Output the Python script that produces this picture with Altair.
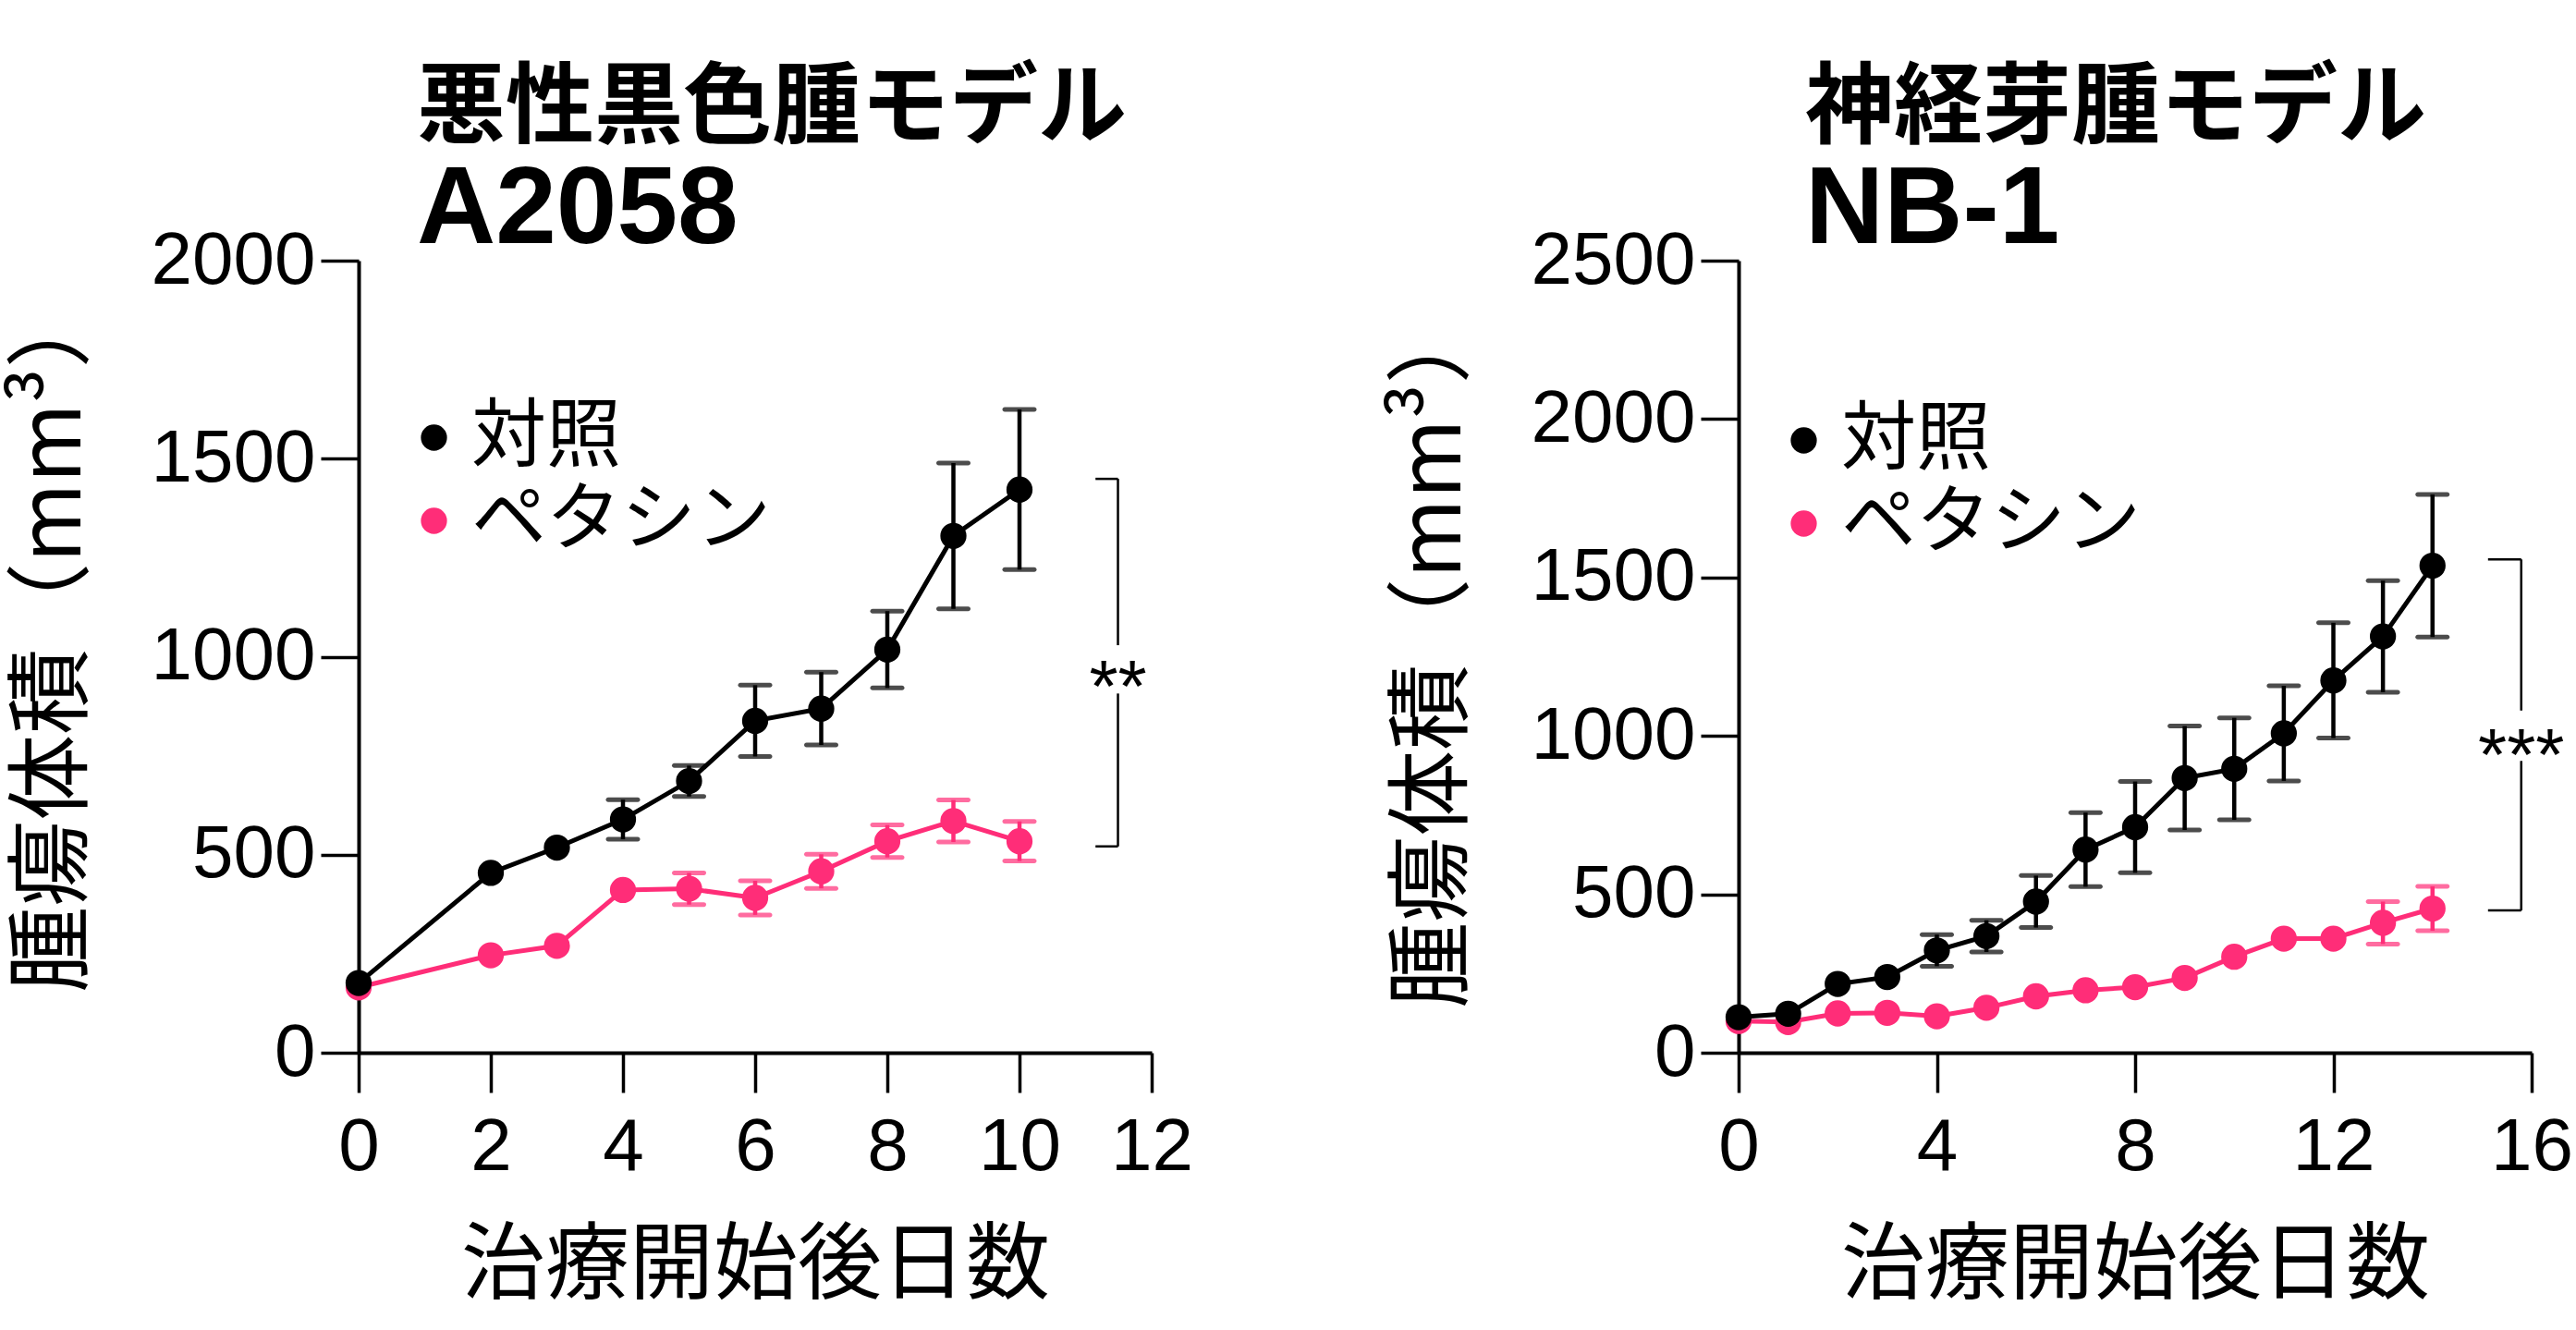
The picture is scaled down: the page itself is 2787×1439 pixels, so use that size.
import altair as alt
import pandas as pd

GROUPS = ["対照", "ペタシン"]
COLORS = ["#000000", "#FF2D78"]
CJK = "Noto Sans CJK JP"
LATIN = "Liberation Sans"

# Melanoma model A2058 (mean tumour volume, mm3, and error)
a2058_days = [0, 2, 3, 4, 5, 6, 7, 8, 9, 10]
a2058_ctrl = [176, 454, 518, 589, 686, 838, 869, 1018, 1305, 1422]
a2058_ctrl_err = [0, 0, 0, 50, 39, 90, 92, 97, 184, 202]
a2058_pet = [165, 246, 270, 411, 414, 391, 458, 534, 585, 534]
a2058_pet_err = [0, 0, 0, 0, 40, 43, 43, 41, 53, 50]

# Neuroblastoma model NB-1
nb1_days = [0, 1, 2, 3, 4, 5, 6, 7, 8, 9, 10, 11, 12, 13, 14]
nb1_ctrl = [112, 123, 217, 239, 323, 368, 477, 641, 712, 867, 896, 1008, 1175, 1314, 1537]
nb1_ctrl_err = [0, 0, 0, 0, 50, 50, 82, 117, 144, 164, 161, 150, 182, 176, 225]
nb1_pet = [100, 97, 124, 126, 115, 142, 178, 197, 207, 236, 303, 360, 360, 410, 455]
nb1_pet_err = [0, 0, 0, 0, 0, 0, 0, 0, 0, 0, 0, 0, 0, 67, 70]

# Significance brackets: x of the vertical line, x of the inner end of the caps,
# bottom / top of the bracket, gap around the stars, star label and its baseline
a2058_bracket = dict(x=11.49, x_in=11.15, lo=521, hi=1449, gap_lo=907, gap_hi=1029, label="**", label_y=860)
nb1_bracket = dict(x=15.79, x_in=15.12, lo=449, hi=1557, gap_lo=921, gap_hi=1080, label="***", label_y=862)


def series_frame(days, ctrl, ctrl_err, pet, pet_err):
    rows = []
    # treated series first so the control series is drawn on top
    for d, v, e in zip(days, pet, pet_err):
        rows.append({"day": d, "vol": v, "err": e, "group": GROUPS[1]})
    for d, v, e in zip(days, ctrl, ctrl_err):
        rows.append({"day": d, "vol": v, "err": e, "group": GROUPS[0]})
    df = pd.DataFrame(rows)
    df["lo"] = df["vol"] - df["err"]
    df["hi"] = df["vol"] + df["err"]
    return df


def panel(df, x_max, x_step, y_max, title, subtitle, title_dx, legend_xy, y_title_pos, br):
    x_axis = alt.Axis(values=list(range(0, x_max + 1, x_step)), title="治療開始後日数")
    y_axis = alt.Axis(
        values=list(range(0, y_max + 1, 500)),
        title="腫瘍体積（mm³）",
        format="d",
        titleY=y_title_pos,
    )
    xs = alt.Scale(domain=[0, x_max], nice=False, zero=True)
    ys = alt.Scale(domain=[0, y_max], nice=False, zero=True)

    def X(field):
        return alt.X(field, type="quantitative", scale=xs, axis=x_axis)

    def Y(field):
        return alt.Y(field, type="quantitative", scale=ys, axis=y_axis)

    layers = []
    # connecting lines and error bars, one colour per group (treated drawn first)
    for group, colour in list(zip(GROUPS, COLORS))[::-1]:
        g = alt.Chart(df).transform_filter(alt.datum.group == group)
        g_err = g.transform_filter("datum.err > 0")
        layers.append(g.mark_line(strokeWidth=5, color=colour).encode(x=X("day"), y=Y("vol")))
        layers.append(
            g_err.mark_rule(strokeWidth=4.5, color=colour).encode(x=X("day"), y=Y("lo"), y2="hi:Q")
        )
        for end in ("lo", "hi"):
            layers.append(
                g_err.mark_tick(
                    orient="horizontal", size=37, thickness=5, cornerRadius=2.5, color=colour
                ).encode(x=X("day"), y=Y(end))
            )

    legend = alt.Legend(
        orient="none",
        legendX=legend_xy[0],
        legendY=legend_xy[1],
        title=None,
        labelFont=CJK,
        labelFontSize=81,
        labelColor="black",
        labelLimit=0,
        symbolType="circle",
        symbolSize=800,
        symbolStrokeWidth=0,
        rowPadding=8,
        labelOffset=0,
        padding=0,
    )
    layers.append(
        alt.Chart(df).mark_point(filled=True, size=800, opacity=1).encode(
            x=X("day"),
            y=Y("vol"),
            color=alt.Color("group:N", scale=alt.Scale(domain=GROUPS, range=COLORS), legend=legend),
        )
    )

    vert = pd.DataFrame(
        {"day": [br["x"], br["x"]], "vol": [br["lo"], br["gap_hi"]], "vol2": [br["gap_lo"], br["hi"]]}
    )
    horiz = pd.DataFrame(
        {"day": [br["x_in"], br["x_in"]], "day2": [br["x"], br["x"]], "vol": [br["lo"], br["hi"]]}
    )
    stars = pd.DataFrame({"day": [br["x"]], "vol": [br["label_y"]], "label": [br["label"]]})

    layers.append(
        alt.Chart(vert).mark_rule(strokeWidth=2.5, color="black").encode(
            x=X("day"), y=Y("vol"), y2="vol2:Q"
        )
    )
    layers.append(
        alt.Chart(horiz).mark_rule(strokeWidth=2.5, color="black").encode(
            x=X("day"), x2="day2:Q", y=Y("vol")
        )
    )
    layers.append(
        alt.Chart(stars).mark_text(
            font=LATIN, fontSize=80, align="center", baseline="alphabetic", color="black"
        ).encode(x=X("day"), y=Y("vol"), text="label:N")
    )

    return alt.layer(*layers).properties(
        width=858,
        height=857,
        title=alt.TitleParams(
            text=title,
            subtitle=subtitle,
            anchor="start",
            frame="group",
            dx=title_dx,
            offset=-46,
            font=CJK,
            fontSize=96,
            fontWeight="bold",
            color="black",
            subtitleFont=LATIN,
            subtitleFontSize=118,
            subtitleFontWeight="bold",
            subtitleColor="black",
            subtitlePadding=3,
        ),
    )


left = panel(
    series_frame(a2058_days, a2058_ctrl, a2058_ctrl_err, a2058_pet, a2058_pet_err),
    12, 2, 2000, "悪性黒色腫モデル", "A2058", 63, (41, 151), 407, a2058_bracket,
)
right = panel(
    series_frame(nb1_days, nb1_ctrl, nb1_ctrl_err, nb1_pet, nb1_pet_err),
    16, 4, 2500, "神経芽腫モデル", "NB-1", 72, (30, 154), 424, nb1_bracket,
)

chart = (
    alt.hconcat(left, right, spacing=214)
    .resolve_scale(x="independent", y="independent", color="independent")
    .resolve_legend(color="independent")
    .properties(padding={"left": 12, "top": 70, "right": 0, "bottom": 0}, background="white")
    .configure_view(stroke=None)
    .configure_axis(
        grid=False,
        domainColor="black",
        tickColor="black",
        labelColor="black",
        titleColor="black",
        domainWidth=4,
        tickWidth=3.5,
        labelFont=LATIN,
        labelFontSize=80,
        labelLimit=0,
        labelFlush=False,
        labelOverlap=False,
        titleFont=CJK,
        titleFontWeight="normal",
    )
    .configure_axisX(tickSize=43, labelPadding=20, titlePadding=44, titleFontSize=91)
    .configure_axisY(tickSize=41, labelPadding=6, titlePadding=82, titleFontSize=93)
)

chart.save("out.html", embed_options={"renderer": "svg", "actions": False})
